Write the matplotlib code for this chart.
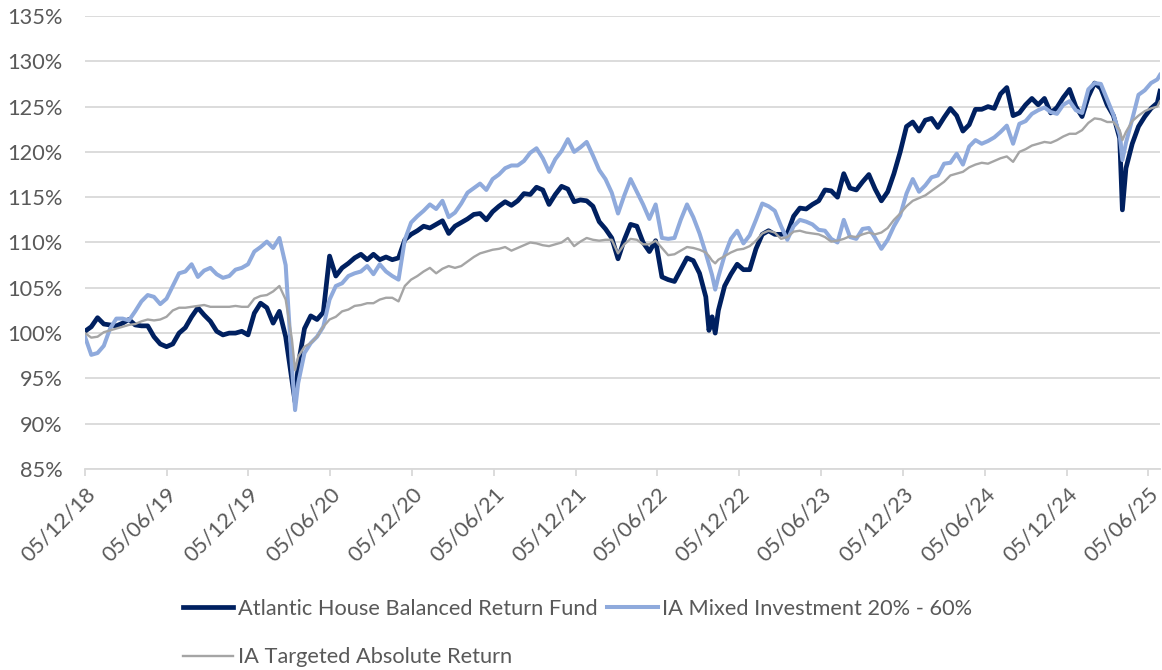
import numpy as np
import pandas as pd
import matplotlib
matplotlib.use('Agg')
import matplotlib.pyplot as plt
from matplotlib.ticker import FuncFormatter

# fortnightly readings from 05/12/18, % of the starting value
dates = pd.date_range('2018-12-05', periods=172, freq='14D')

ahbr = [100.2, 100.7, 101.7, 101.0, 100.9, 100.8, 101.1, 101.5, 100.9, 100.8,
        100.8, 99.6, 98.8, 98.5, 98.8, 100.0, 100.6, 101.8, 102.8, 102.0,
        101.3, 100.2, 99.8, 100.0, 100.0, 100.2, 99.8, 102.2, 103.3,
        102.8, 101.1, 102.4, 99.6, 94.8, 96.5, 100.5, 101.9, 101.5, 102.3,
        108.5, 106.3, 107.2, 107.7, 108.3, 108.7, 108.1, 108.7, 108.1, 108.4,
        108.1, 108.3, 110.3, 110.9, 111.3, 111.8, 111.6, 112.0, 112.4,
        111.0, 111.8, 112.2, 112.6, 113.1, 113.2, 112.5, 113.4, 114.0, 114.5,
        114.1, 114.6, 115.4, 115.3, 116.1, 115.8, 114.2, 115.3, 116.2, 115.9,
        114.5, 114.7, 114.6, 114.0, 112.3, 111.5, 110.5, 108.2, 110.3,
        112.0, 111.8, 110.0, 109.0, 110.2, 106.2, 105.9, 105.7, 107.0, 108.3,
        108.0, 106.6, 104.0, 101.8, 102.5, 105.2, 106.5, 107.6, 107.0, 107.0,
        109.3, 110.9, 111.3, 110.9, 110.9, 111.0, 112.9, 113.8, 113.7,
        114.2, 114.6, 115.8, 115.7, 115.0, 117.6, 116.0, 115.8, 116.7, 117.5,
        115.9, 114.6, 115.6, 117.6, 120.0, 122.8, 123.3, 122.3, 123.5, 123.7,
        122.7, 123.8, 124.8, 124.0, 122.3, 123.0, 124.7, 124.7,
        125.0, 124.8, 126.4, 127.1, 124.0, 124.3, 125.2, 125.9, 125.2, 125.9,
        124.3, 124.9, 126.0, 126.9, 125.0, 123.9, 126.1, 127.6, 127.0, 125.2,
        124.0, 121.5, 118.2, 120.9, 122.8, 123.9, 124.8, 125.4]

mixed = [99.6, 97.6, 97.8, 98.6, 100.5, 101.6, 101.6, 101.4, 102.4, 103.5,
         104.2, 104.0, 103.2, 103.8, 105.2, 106.6, 106.8, 107.6, 106.2, 106.9,
         107.2, 106.5, 106.1, 106.3, 107.0, 107.2, 107.6, 109.0, 109.5,
         110.1, 109.4, 110.5, 107.5, 96.3, 94.5, 97.8, 98.9, 99.6, 100.7,
         103.7, 105.2, 105.5, 106.3, 106.6, 106.8, 107.4, 106.5, 107.6, 106.8,
         106.3, 105.9, 110.3, 112.2, 112.9, 113.5, 114.2, 113.7, 114.6,
         112.8, 113.3, 114.3, 115.5, 116.0, 116.5, 115.8, 117.0, 117.5, 118.2,
         118.5, 118.5, 119.0, 119.9, 120.4, 119.3, 117.8, 119.2, 120.1, 121.4,
         120.0, 120.5, 121.1, 119.6, 118.0, 117.0, 115.5, 113.2, 115.2,
         117.0, 115.6, 114.2, 112.6, 114.2, 110.5, 110.4, 110.5, 112.5, 114.2,
         112.8, 111.0, 108.8, 106.4, 106.2, 108.6, 110.4, 111.3, 109.9, 110.8,
         112.5, 114.3, 114.0, 113.5, 111.8, 110.3, 111.8, 112.5, 112.3,
         112.0, 111.4, 111.3, 110.4, 110.0, 112.5, 110.6, 110.4, 111.5, 111.6,
         110.5, 109.3, 110.3, 111.8, 113.0, 115.4, 117.0, 115.6, 116.3, 117.2,
         117.4, 118.7, 118.8, 119.8, 118.6, 120.6, 121.3, 120.9,
         121.2, 121.6, 122.2, 122.9, 120.9, 123.1, 123.4, 124.2, 124.6, 124.9,
         124.4, 124.2, 125.2, 125.6, 124.6, 124.3, 126.9, 127.6, 127.5, 125.8,
         124.1, 121.9, 121.0, 123.6, 126.3, 126.8, 127.6, 128.0]

tar = [100.0, 99.5, 99.6, 100.1, 100.3, 100.5, 100.7, 100.9, 101.0, 101.3,
       101.5, 101.4, 101.5, 101.8, 102.5, 102.8, 102.8, 102.9, 103.0, 103.1,
       102.9, 102.9, 102.9, 102.9, 103.0, 102.9, 102.9, 103.8, 104.1,
       104.2, 104.6, 105.2, 103.7, 99.3, 97.4, 98.5, 98.9, 99.6, 100.7,
       101.5, 101.8, 102.4, 102.6, 103.0, 103.1, 103.3, 103.3, 103.7, 103.9,
       103.9, 103.5, 105.2, 105.9, 106.3, 106.8, 107.2, 106.6, 107.1,
       107.4, 107.2, 107.4, 107.9, 108.4, 108.8, 109.0, 109.2, 109.3, 109.5,
       109.1, 109.4, 109.7, 110.0, 109.9, 109.7, 109.6, 109.8, 110.0, 110.5,
       109.6, 110.1, 110.5, 110.3, 110.2, 110.3, 110.3, 108.8, 109.8,
       110.4, 110.3, 109.8, 109.8, 110.2, 109.4, 108.6, 108.7, 109.1, 109.5,
       109.4, 109.2, 108.9, 108.0, 108.1, 108.5, 108.9, 109.2, 109.3, 109.6,
       110.2, 111.0, 111.3, 111.1, 110.4, 110.6, 111.2, 111.3, 111.1,
       111.0, 110.9, 110.6, 110.1, 110.2, 110.4, 110.7, 110.6, 110.9, 111.1,
       110.9, 111.1, 111.6, 112.5, 113.2, 114.0, 114.6, 114.9, 115.2, 115.7,
       116.2, 116.7, 117.4, 117.6, 117.8, 118.3, 118.6, 118.8,
       118.7, 119.0, 119.3, 119.5, 118.9, 120.0, 120.3, 120.7, 120.9, 121.1,
       121.0, 121.3, 121.7, 122.0, 122.0, 122.4, 123.2, 123.7, 123.6, 123.3,
       123.3, 122.4, 122.2, 123.4, 124.0, 124.5, 124.8, 125.0]

# extra readings at the sharp lows and the last day
extra_dates = pd.to_datetime(['2020-03-18', '2022-09-28', '2022-10-12',
                              '2025-04-08', '2025-07-01'])
extra_ahbr = [92.4, 100.3, 100.0, 113.6, 126.7]
extra_mixed = [91.5, 107.6, 104.8, 119.1, 128.5]
extra_tar = [95.9, 108.5, 107.7, 121.3, 125.6]

names = ['Atlantic House Balanced Return Fund',
         'IA Mixed Investment 20% - 60%',
         'IA Targeted Absolute Return']
colors = ['#002060', '#8FAADC', '#A5A5A5']
widths = [3.4, 2.9, 1.7]

df = pd.DataFrame({'ahbr': ahbr, 'mixed': mixed, 'tar': tar}, index=dates)
extra = pd.DataFrame({'ahbr': extra_ahbr, 'mixed': extra_mixed, 'tar': extra_tar},
                     index=extra_dates)
df = pd.concat([df, extra]).sort_index()

tick_dates = pd.date_range('2018-12-01', periods=14, freq='6MS') + pd.Timedelta(days=4)

plt.rcParams['font.family'] = ['Lato', 'DejaVu Sans']
text_col = '#595959'
grid_col = '#D9D9D9'
fs = 15.7

fig = plt.figure(figsize=(11.62, 6.70), dpi=100)
ax = fig.add_axes([85 / 1162, 1 - 469 / 670, (1160 - 85) / 1162, (469 - 16) / 670])

lines = []
for col, name, c, w in zip(['ahbr', 'mixed', 'tar'], names, colors, widths):
    ln, = ax.plot(df.index, df[col], color=c, lw=w, label=name,
                  solid_joinstyle='round')
    lines.append(ln)

ax.set_ylim(85, 135)
ax.set_yticks(np.arange(85, 136, 5))
ax.yaxis.set_major_formatter(FuncFormatter(lambda v, _: f'{v:.0f}%'))
ax.set_xlim(df.index[0], df.index[-1])
ax.set_xticks(tick_dates)
ax.set_xticklabels([d.strftime('%d/%m/%y') for d in tick_dates],
                   rotation=45, ha='right', rotation_mode='anchor')

ax.grid(axis='y', color=grid_col, lw=1.3)
ax.set_axisbelow(True)
for s in ['top', 'right', 'left']:
    ax.spines[s].set_visible(False)
ax.spines['bottom'].set_color(grid_col)
ax.spines['bottom'].set_linewidth(1.3)
ax.tick_params(axis='y', length=0, pad=16, labelsize=fs, labelcolor=text_col)
ax.tick_params(axis='x', length=5, width=1.3, color=grid_col, pad=6,
               labelsize=fs, labelcolor=text_col)

# two rows: fund + mixed on top, targeted below
leg = fig.legend([lines[0], lines[2], lines[1]], [names[0], names[2], names[1]],
                 ncol=2, loc='upper left', bbox_to_anchor=(183 / 1162, 0.106),
                 frameon=False, fontsize=fs, handlelength=2.3,
                 handletextpad=0.22, columnspacing=0.45, labelspacing=1.3,
                 borderpad=0, borderaxespad=0)
for t in leg.get_texts():
    t.set_color(text_col)

fig.savefig('out.png', dpi=100)
